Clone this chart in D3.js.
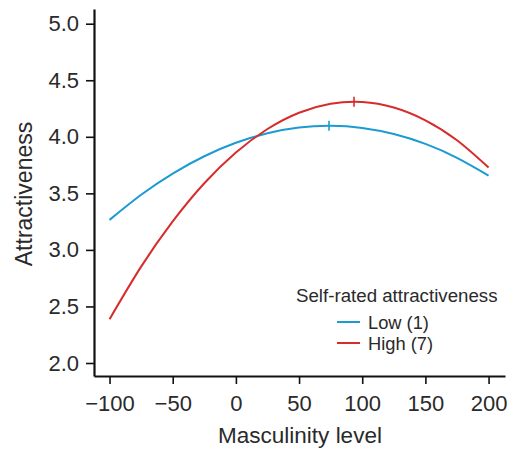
<!DOCTYPE html>
<html>
<head>
<meta charset="utf-8">
<script src="https://cdn.jsdelivr.net/npm/d3@7"></script>
<style>
  body { margin: 0; background: #fff; }
  text { font-family: "Liberation Sans", Arial, sans-serif; fill: #2a2a2a; }
</style>
</head>
<body>
<div id="chart"></div>
<script>

// masculinity level (x) where the curves were read
var masculinity = [-100, -75, -50, -25, 0, 25, 50, 75, 100, 125, 150, 175, 200];

// attractiveness
var lowValues  = [3.265, 3.487, 3.675, 3.828, 3.947, 4.032, 4.082, 4.097, 4.078, 4.024, 3.937, 3.814, 3.657];
var highValues = [2.387, 2.852, 3.252, 3.589, 3.861, 4.069, 4.213, 4.292, 4.308, 4.259, 4.146, 3.969, 3.728];

// peak markers (x, y) for each series
var peakX = [73.7, 93.5];
var peakY = [4.097, 4.31];

var seriesNames = ["Low (1)", "High (7)"];
var seriesColors = ["#1b9bd2", "#d62c2c"];

var xTicks = [-100, -50, 0, 50, 100, 150, 200];
var yTicks = [2.0, 2.5, 3.0, 3.5, 4.0, 4.5, 5.0];


function draw_chart(){
	var width = 511, height = 450;

	var svg = d3.select("#chart")
		.append("svg")
		.attr("width", width)
		.attr("height", height);

	var x = d3.scaleLinear().domain([-112.3, 213]).range([94, 505]);
	var y = d3.scaleLinear().domain([1.885, 5.13]).range([376, 9]);

	// x axis
	var gx = svg.append("g")
		.attr("transform", "translate(0,376)")
		.call(d3.axisBottom(x).tickValues(xTicks).tickSizeOuter(0).tickSizeInner(8).tickPadding(11));
	// y axis
	var gy = svg.append("g")
		.attr("transform", "translate(94,0)")
		.call(d3.axisLeft(y).tickValues(yTicks).tickFormat(d3.format(".1f")).tickSizeOuter(0).tickSizeInner(8).tickPadding(7));

	[gx, gy].forEach(function(g){
		g.select(".domain").attr("stroke", "#111").attr("stroke-width", 2.2);
		g.selectAll(".tick line").attr("stroke", "#111").attr("stroke-width", 1.6);
		g.selectAll(".tick text").attr("font-size", 22).attr("fill", "#2a2a2a").attr("font-family", null);
	});

	// axis titles
	svg.append("text")
		.attr("x", 300).attr("y", 443)
		.attr("text-anchor", "middle")
		.attr("font-size", 22.5)
		.text("Masculinity level");
	svg.append("text")
		.attr("transform", "translate(32,194) rotate(-90)")
		.attr("text-anchor", "middle")
		.attr("font-size", 23)
		.text("Attractiveness");

	// curves
	var line = d3.line()
		.x(function(d, i){ return x(masculinity[i]); })
		.y(function(d){ return y(d); })
		.curve(d3.curveNatural);

	[lowValues, highValues].forEach(function(vals, k){
		svg.append("path")
			.attr("d", line(vals))
			.attr("fill", "none")
			.attr("stroke", seriesColors[k])
			.attr("stroke-width", 2);

		// little vertical mark at the peak
		svg.append("line")
			.attr("x1", x(peakX[k])).attr("x2", x(peakX[k]))
			.attr("y1", y(peakY[k]) - 5).attr("y2", y(peakY[k]) + 5)
			.attr("stroke", seriesColors[k])
			.attr("stroke-width", 1.6);
	});

	// legend
	svg.append("text")
		.attr("x", 296).attr("y", 302)
		.attr("font-size", 18.7)
		.text("Self-rated attractiveness");

	seriesNames.forEach(function(name, k){
		var ly = 322 + k * 21;
		svg.append("line")
			.attr("x1", 337).attr("x2", 360)
			.attr("y1", ly).attr("y2", ly)
			.attr("stroke", seriesColors[k])
			.attr("stroke-width", 2);
		svg.append("text")
			.attr("x", 368).attr("y", ly + 6.5)
			.attr("font-size", 18.3)
			.text(name);
	});
}

draw_chart();
</script>
</body>
</html>
